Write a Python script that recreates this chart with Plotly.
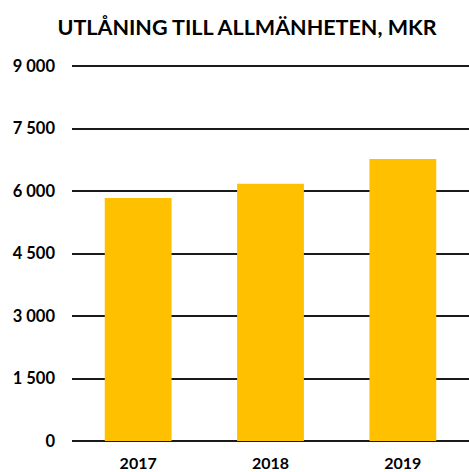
import plotly.graph_objects as go

years = ["2017", "2018", "2019"]
values = [5835, 6179, 6772]
tick_vals = [0, 1500, 3000, 4500, 6000, 7500, 9000]
tick_text = ["0", "1 500", "3 000", "4 500", "6 000", "7 500", "9 000"]

fig = go.Figure(go.Bar(x=years, y=values, marker=dict(color="#FFC000", line=dict(width=0)),
                       hoverinfo="skip"))

fig.update_layout(
    width=469, height=472,
    margin=dict(l=72, r=0, t=65, b=31),
    paper_bgcolor="white", plot_bgcolor="white",
    bargap=0.495,
    showlegend=False,
    font=dict(family="Lato", color="#000000"),
    title=dict(text="<b>UTLÅNING TILL ALLMÄNHETEN, MKR</b>", x=247/469, xanchor="center",
               y=1 - 27/472, yanchor="middle", yref="container",
               font=dict(family="Lato", size=21.5, color="#000000")),
)
fig.update_yaxes(range=[0, 9030], tickvals=tick_vals, ticktext=[f"<b>{t}</b>" for t in tick_text],
                 showgrid=True, gridcolor="#1a1a1a", gridwidth=1.5,
                 zeroline=True, zerolinecolor="#1a1a1a", zerolinewidth=1.5,
                 showline=False, ticks="", ticklabelstandoff=16, automargin=False,
                 tickfont=dict(family="Lato", size=16.5, color="#000000"))
fig.update_xaxes(showgrid=False, showline=False, ticks="", ticklabelstandoff=11, automargin=False,
                 tickvals=years, ticktext=[f"<b>{y}</b>" for y in years],
                 tickfont=dict(family="Lato", size=16, color="#000000"))

fig.write_html("out.html", config={"displayModeBar": False},
               post_script="document.body.style.margin='0';")
